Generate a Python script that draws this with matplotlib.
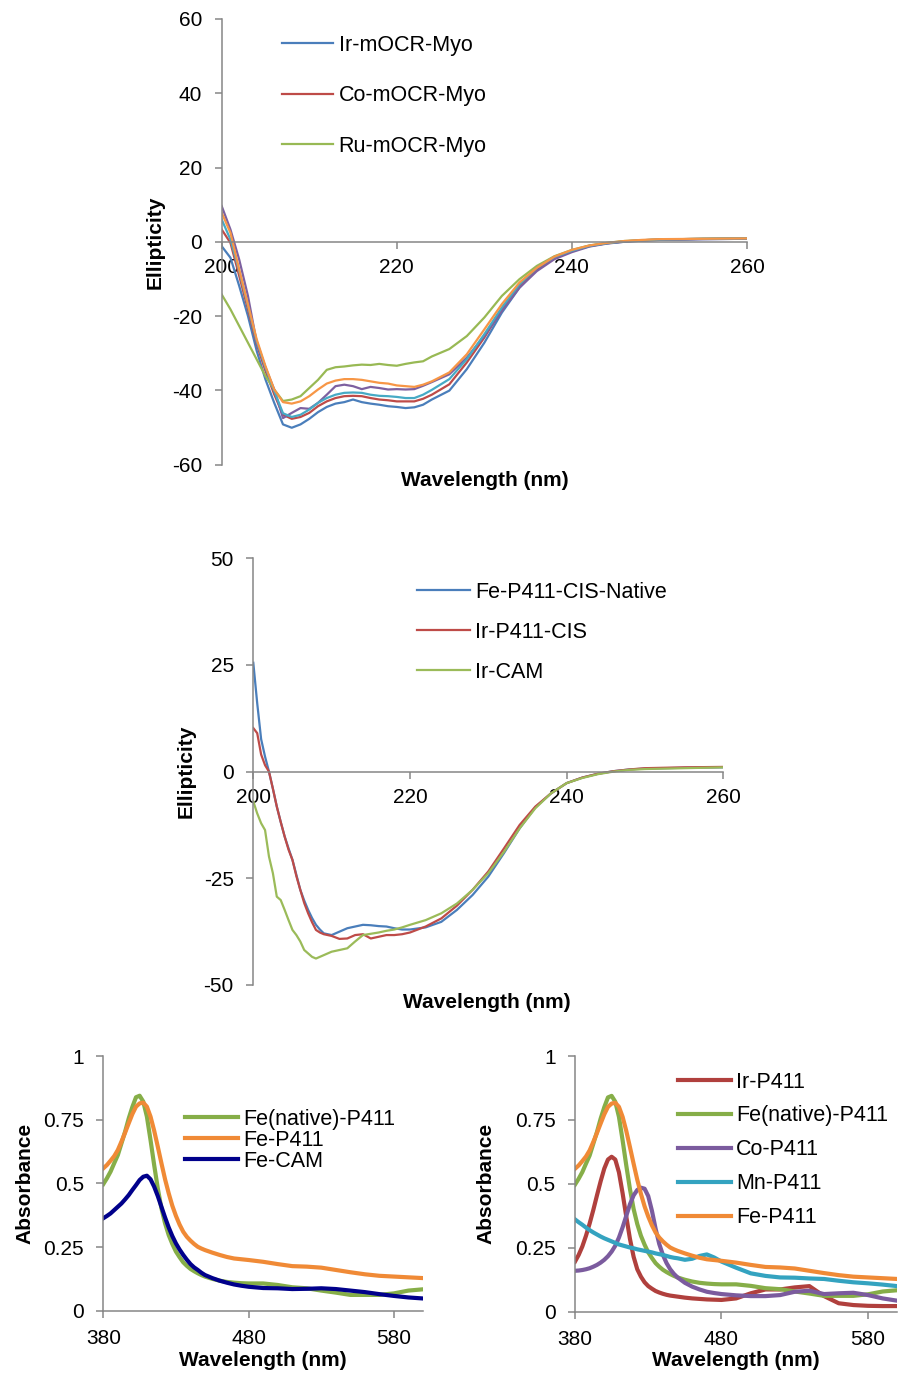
import matplotlib
matplotlib.use("Agg")
import matplotlib.pyplot as plt

plt.rcParams['font.family'] = ['Liberation Sans', 'DejaVu Sans']
plt.rcParams['axes.unicode_minus'] = False

# ---------------- Top panel data (CD, mOCR-Myo) ----------------
wl_top = [200, 201, 202, 203, 204, 205, 206, 207, 208, 209, 210, 211, 212, 213, 214,
          215, 216, 217, 218, 219, 220, 221, 222, 223, 224, 226, 228, 230, 232, 234,
          236, 238, 240, 242, 244, 246, 248, 250, 255, 260]
ir_myo = [-1.2, -4.3, -11.9, -20.0, -29.4, -37.1, -43.4, -49.2, -50.1, -49.2, -47.7, -45.9, -44.5, -43.6, -43.2,
          -42.5, -43.2, -43.6, -43.9, -44.3, -44.5, -44.8, -44.6, -43.9, -42.5, -40.1, -34.3, -27.2, -19.1, -12.4,
          -7.4, -4.3, -2.5, -1.2, -0.4, 0.0, 0.3, 0.5, 0.7, 0.8]
co_myo = [3.3, -0.3, -9.2, -18.2, -27.6, -34.8, -41.1, -46.6, -47.7, -47.2, -46.1, -44.3, -43.0, -42.1, -41.6,
          -41.5, -41.6, -42.1, -42.5, -42.7, -43.0, -43.0, -43.0, -42.3, -41.2, -38.4, -32.5, -25.8, -18.2, -11.9,
          -7.2, -4.2, -2.4, -1.1, -0.4, 0.1, 0.4, 0.6, 0.8, 0.9]
ru_myo = [-14.2, -18.2, -22.7, -27.2, -31.7, -36.2, -39.8, -42.9, -42.5, -41.6, -39.4, -37.2, -34.5, -33.8, -33.6,
          -33.3, -33.1, -33.2, -32.9, -33.2, -33.4, -32.9, -32.5, -32.2, -30.9, -28.9, -25.4, -20.4, -14.6, -10.1,
          -6.5, -3.9, -2.2, -1.0, -0.3, 0.2, 0.4, 0.6, 0.8, 0.9]
purple_myo = [9.6, 3.3, -4.8, -14.6, -27.2, -33.9, -39.8, -47.5, -46.1, -44.8, -45.0, -43.4, -41.2, -38.9, -38.5,
              -38.9, -39.7, -39.1, -39.4, -39.8, -39.7, -39.8, -39.7, -38.8, -37.8, -35.7, -31.2, -25.4, -18.6, -12.4,
              -7.9, -4.7, -2.8, -1.3, -0.5, 0.0, 0.3, 0.5, 0.7, 0.8]
cyan_myo = [6.0, 0.6, -7.9, -17.3, -26.8, -33.9, -40.2, -46.2, -47.2, -46.6, -45.2, -43.4, -42.1, -41.2, -40.7,
            -40.6, -40.7, -41.2, -41.5, -41.6, -41.8, -42.1, -42.1, -41.2, -39.9, -37.0, -31.6, -24.9, -17.7, -11.5,
            -7.0, -4.1, -2.4, -1.1, -0.4, 0.1, 0.4, 0.6, 0.8, 0.9]
orange_myo = [7.8, 2.4, -7.5, -16.9, -26.3, -33.5, -39.8, -43.2, -43.6, -43.0, -41.6, -39.8, -38.2, -37.4, -37.0,
              -37.0, -37.2, -37.6, -38.0, -38.2, -38.7, -38.9, -39.1, -38.5, -37.6, -35.2, -30.3, -23.6, -16.8, -11.0,
              -7.0, -4.0, -2.2, -1.0, -0.3, 0.2, 0.5, 0.7, 0.8, 0.9]

# ---------------- Middle panel data (CD, P411) ----------------
wl_mid = [200, 200.5, 201, 201.5, 202, 202.5, 203, 203.5, 204, 204.5, 205, 205.5, 206, 206.5, 207,
          207.5, 208, 208.5, 209, 210, 211, 212, 213, 214, 215, 216, 217, 218, 219, 220,
          222, 224, 226, 228, 230, 232, 234, 236, 238, 240, 242, 244, 246, 248, 250, 255, 260]
fe_cis = [25.5, 16.0, 7.6, 3.5, 0.0, -4.0, -8.2, -11.8, -15.2, -18.0, -20.7, -24.2, -27.7, -30.2, -32.4,
          -34.3, -35.9, -37.0, -37.9, -38.3, -37.5, -36.7, -36.3, -35.9, -36.0, -36.2, -36.3, -36.7, -37.0, -37.0,
          -36.5, -35.2, -32.4, -28.9, -24.6, -19.1, -13.3, -8.4, -5.1, -2.7, -1.4, -0.5, 0.1, 0.5, 0.7, 0.9, 1.0]
ir_cis = [10.2, 9.0, 4.0, 1.5, 0.0, -4.0, -8.2, -11.8, -15.2, -18.3, -20.7, -24.5, -27.7, -30.8, -33.2,
          -35.3, -37.1, -37.7, -38.1, -38.5, -39.2, -39.1, -38.3, -38.1, -39.1, -38.7, -38.3, -38.3, -38.1, -37.7,
          -36.3, -34.4, -31.4, -27.7, -23.4, -18.0, -12.5, -8.2, -5.1, -2.7, -1.4, -0.5, 0.1, 0.5, 0.8, 1.0, 1.1]
ir_cam = [-7.0, -9.8, -12.1, -13.7, -19.9, -23.8, -29.3, -30.1, -32.4, -34.8, -37.1, -38.3, -39.8, -41.8, -42.6,
          -43.4, -43.8, -43.4, -43.0, -42.2, -41.8, -41.4, -39.8, -38.3, -38.0, -37.7, -37.3, -37.0, -36.5, -35.9,
          -34.8, -33.2, -30.9, -27.7, -23.8, -18.8, -13.3, -8.6, -5.1, -2.7, -1.5, -0.6, 0.0, 0.4, 0.6, 0.8, 1.0]

# ---------------- Bottom panels data (UV-Vis) ----------------
wl_uv = [380, 382.5, 385, 387.5, 390, 392.5, 395, 397.5, 400, 402.5, 405, 407.5, 410, 412.5, 415,
         417.5, 420, 422.5, 425, 427.5, 430, 432.5, 435, 437.5, 440, 442.5, 445, 447.5, 450,
         455, 460, 465, 470, 475, 480,
         490, 500, 510, 520, 530, 540, 550, 560, 570, 580, 590, 600]
fe_native = [0.497, 0.520, 0.546, 0.579, 0.611, 0.657, 0.703, 0.755, 0.800, 0.838, 0.844, 0.821, 0.762, 0.670, 0.572,
             0.480, 0.402, 0.343, 0.297, 0.262, 0.232, 0.210, 0.190, 0.176, 0.164, 0.155, 0.147, 0.140, 0.134,
             0.125, 0.118, 0.113, 0.110, 0.108, 0.107,
             0.107, 0.101, 0.092, 0.088, 0.079, 0.071, 0.062, 0.062, 0.062, 0.068, 0.079, 0.084]
fe_p411 = [0.559, 0.572, 0.589, 0.607, 0.631, 0.664, 0.699, 0.736, 0.772, 0.801, 0.814, 0.817, 0.801, 0.762, 0.707,
           0.644, 0.579, 0.516, 0.461, 0.412, 0.372, 0.338, 0.310, 0.290, 0.275, 0.262, 0.251, 0.244, 0.238,
           0.228, 0.219, 0.211, 0.205, 0.202, 0.199,
           0.192, 0.183, 0.175, 0.173, 0.169, 0.160, 0.151, 0.143, 0.137, 0.134, 0.131, 0.128]
fe_cam = [0.363, 0.372, 0.382, 0.395, 0.408, 0.421, 0.437, 0.454, 0.474, 0.493, 0.513, 0.526, 0.530, 0.516, 0.487,
          0.450, 0.408, 0.366, 0.327, 0.293, 0.264, 0.240, 0.219, 0.200, 0.183, 0.170, 0.160, 0.149, 0.140,
          0.128, 0.118, 0.110, 0.103, 0.098, 0.094,
          0.089, 0.088, 0.085, 0.086, 0.088, 0.085, 0.079, 0.073, 0.065, 0.058, 0.052, 0.048]
ir_p411 = [0.196, 0.222, 0.255, 0.297, 0.345, 0.398, 0.455, 0.510, 0.560, 0.595, 0.606, 0.595, 0.545, 0.463, 0.372,
           0.285, 0.215, 0.166, 0.137, 0.115, 0.100, 0.090, 0.081, 0.075, 0.070, 0.066, 0.063, 0.061, 0.059,
           0.055, 0.052, 0.050, 0.048, 0.047, 0.046,
           0.052, 0.072, 0.087, 0.087, 0.095, 0.100, 0.061, 0.033, 0.026, 0.023, 0.022, 0.022]
co_p411 = [0.160, 0.161, 0.163, 0.166, 0.170, 0.176, 0.183, 0.192, 0.203, 0.217, 0.235, 0.258, 0.290, 0.330, 0.375,
           0.420, 0.455, 0.476, 0.485, 0.481, 0.452, 0.395, 0.325, 0.265, 0.222, 0.190, 0.166, 0.148, 0.134,
           0.113, 0.098, 0.087, 0.078, 0.073, 0.069,
           0.064, 0.061, 0.061, 0.065, 0.078, 0.082, 0.069, 0.072, 0.074, 0.065, 0.052, 0.043]
mn_p411 = [0.361, 0.350, 0.340, 0.329, 0.319, 0.310, 0.302, 0.294, 0.287, 0.281, 0.275, 0.269, 0.263, 0.259, 0.255,
           0.251, 0.248, 0.244, 0.241, 0.238, 0.235, 0.232, 0.228, 0.225, 0.222, 0.218, 0.214, 0.211, 0.209,
           0.203, 0.207, 0.218, 0.224, 0.212, 0.196,
           0.172, 0.150, 0.140, 0.134, 0.133, 0.130, 0.128, 0.121, 0.115, 0.111, 0.106, 0.100]

top_ticks_x = [200, 220, 240, 260]
top_ticks_y = [-60, -40, -20, 0, 20, 40, 60]
mid_ticks_y = [-50, -25, 0, 25, 50]
uv_ticks_x = [380, 480, 580]
uv_ticks_y = [0, 0.25, 0.5, 0.75, 1]
uv_tick_labels_y = ['0', '0.25', '0.5', '0.75', '1']

GRAY = '#868686'
FS = 15
LFS = 15.5

W, H = 900, 1376
fig = plt.figure(figsize=(9, 13.76), dpi=100)


def rect(l, r, t, b):
    return [l / W, 1 - b / H, (r - l) / W, (b - t) / H]


def style_axis(ax, zero_x=False, xpad=6.5):
    for s in ['top', 'right']:
        ax.spines[s].set_visible(False)
    for s in ['left', 'bottom']:
        ax.spines[s].set_color(GRAY)
        ax.spines[s].set_linewidth(1.1)
    if zero_x:
        ax.spines['bottom'].set_position(('data', 0))
    ax.tick_params(axis='both', colors=GRAY, labelcolor='black', labelsize=FS,
                   length=5, width=1.1, direction='out')
    ax.tick_params(axis='y', pad=9)
    ax.tick_params(axis='x', pad=xpad)


# ---------- Top ----------
ax1 = fig.add_axes(rect(221.7, 747, 19, 464.5))
ax1.plot(wl_top, ir_myo, color='#4A7EBB', lw=1.6, label='Ir-mOCR-Myo')
ax1.plot(wl_top, co_myo, color='#BE4B48', lw=1.6, label='Co-mOCR-Myo')
ax1.plot(wl_top, ru_myo, color='#98B954', lw=1.6, label='Ru-mOCR-Myo')
ax1.plot(wl_top, purple_myo, color='#7D60A0', lw=1.6)
ax1.plot(wl_top, cyan_myo, color='#46AAC5', lw=1.6)
ax1.plot(wl_top, orange_myo, color='#F79646', lw=1.6)
ax1.set_xlim(200, 260)
ax1.set_ylim(-60, 60)
ax1.set_xticks(top_ticks_x)
ax1.set_yticks(top_ticks_y)
style_axis(ax1, zero_x=True)
ax1.legend(loc='upper left', bbox_to_anchor=(282 / W, 1 - 34.5 / H), bbox_transform=fig.transFigure,
           frameon=False, fontsize=LFS, handlelength=2.35, handletextpad=0.28,
           labelspacing=1.38, borderpad=0, borderaxespad=0)
fig.text(155 / W, 1 - 242 / H, 'Ellipticity', rotation=90, ha='center', va='center',
         fontsize=FS, fontweight='bold')
fig.text(485 / W, 1 - 481 / H, 'Wavelength (nm)', ha='center', va='center',
         fontsize=FS, fontweight='bold')

# ---------- Middle ----------
ax2 = fig.add_axes(rect(253.3, 723.3, 558.2, 985))
ax2.plot(wl_mid, fe_cis, color='#4A7EBB', lw=1.6, label='Fe-P411-CIS-Native')
ax2.plot(wl_mid, ir_cis, color='#BE4B48', lw=1.6, label='Ir-P411-CIS')
ax2.plot(wl_mid, ir_cam, color='#9BBB59', lw=1.6, label='Ir-CAM')
ax2.set_xlim(200, 260)
ax2.set_ylim(-50, 50)
ax2.set_xticks(top_ticks_x)
ax2.set_yticks(mid_ticks_y)
style_axis(ax2, zero_x=True)
ax2.legend(loc='upper left', bbox_to_anchor=(417 / W, 1 - 581.5 / H), bbox_transform=fig.transFigure,
           frameon=False, fontsize=LFS, handlelength=2.45, handletextpad=0.24,
           labelspacing=0.89, borderpad=0, borderaxespad=0)
fig.text(186 / W, 1 - 771 / H, 'Ellipticity', rotation=90, ha='center', va='center',
         fontsize=FS, fontweight='bold')
fig.text(487 / W, 1 - 1003 / H, 'Wavelength (nm)', ha='center', va='center',
         fontsize=FS, fontweight='bold')

# ---------- Bottom left ----------
ax3 = fig.add_axes(rect(103.3, 423, 1056, 1310.7))
ax3.plot(wl_uv, fe_native, color='#86AE48', lw=3, label='Fe(native)-P411')
ax3.plot(wl_uv, fe_p411, color='#F08A36', lw=3, label='Fe-P411')
ax3.plot(wl_uv, fe_cam, color='#00008B', lw=3, label='Fe-CAM')
ax3.set_xlim(380, 600)
ax3.set_ylim(0, 1)
ax3.set_xticks(uv_ticks_x)
ax3.set_yticks(uv_ticks_y)
ax3.set_yticklabels(uv_tick_labels_y)
style_axis(ax3, xpad=8.5)
ax3.legend(loc='upper left', bbox_to_anchor=(185 / W, 1 - 1109 / H), bbox_transform=fig.transFigure,
           frameon=False, fontsize=LFS, handlelength=2.45, handletextpad=0.24,
           labelspacing=0.0, borderpad=0, borderaxespad=0)
fig.text(25 / W, 1 - 1183 / H, 'Absorbance', rotation=90, ha='center', va='center',
         fontsize=FS, fontweight='bold')
fig.text(263 / W, 1 - 1361 / H, 'Wavelength (nm)', ha='center', va='center',
         fontsize=FS, fontweight='bold')

# ---------- Bottom right ----------
ax4 = fig.add_axes(rect(575, 897.3, 1056, 1311.7))
ax4.plot(wl_uv, ir_p411, color='#B0403D', lw=3, label='Ir-P411')
ax4.plot(wl_uv, fe_native, color='#86AE48', lw=3, label='Fe(native)-P411')
ax4.plot(wl_uv, co_p411, color='#7B5B9E', lw=3, label='Co-P411')
ax4.plot(wl_uv, mn_p411, color='#34A3C0', lw=3, label='Mn-P411')
ax4.plot(wl_uv, fe_p411, color='#F08A36', lw=3, label='Fe-P411')
ax4.set_xlim(380, 600)
ax4.set_ylim(0, 1)
ax4.set_xticks(uv_ticks_x)
ax4.set_yticks(uv_ticks_y)
ax4.set_yticklabels(uv_tick_labels_y)
style_axis(ax4, xpad=8.5)
ax4.legend(loc='upper left', bbox_to_anchor=(678 / W, 1 - 1071.5 / H), bbox_transform=fig.transFigure,
           frameon=False, fontsize=LFS, handlelength=2.45, handletextpad=0.24,
           labelspacing=0.60, borderpad=0, borderaxespad=0)
fig.text(486 / W, 1 - 1183 / H, 'Absorbance', rotation=90, ha='center', va='center',
         fontsize=FS, fontweight='bold')
fig.text(736 / W, 1 - 1361 / H, 'Wavelength (nm)', ha='center', va='center',
         fontsize=FS, fontweight='bold')

fig.savefig('out.png', dpi=100)
